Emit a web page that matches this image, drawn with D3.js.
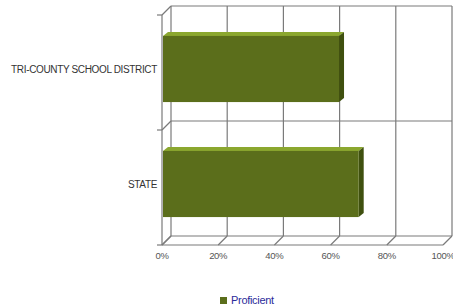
<!DOCTYPE html>
<html>
<head>
<meta charset="utf-8">
<script src="https://cdnjs.cloudflare.com/ajax/libs/d3/7.8.5/d3.min.js"></script>
<style>
  body { margin: 0; background: #fff; }
  svg { display: block; font-family: "Liberation Sans", Arial, sans-serif; }
</style>
</head>
<body>
<div id="chart"></div>
<script>
// data
var categories = ["TRI-COUNTY SCHOOL DISTRICT", "STATE"];
var proficient = [63, 70];
var tickValues = [0, 20, 40, 60, 80, 100];
var seriesName = "Proficient";

var W = 453, H = 308;
var fr = {l: 162, r: 443, t: 15, b: 245}; // front plane of the 3d box
var dep = {x: 9, y: -9};                 // box depth offset
var barDep = {x: 5, y: -4};              // bar depth offset
var col = {front: "#5b6e1b", top: "#8ba72f", side: "#3f500f", grid: "#7a7a7a"};

var svg = d3.select("#chart").append("svg").attr("width", W).attr("height", H);

var x = d3.scaleLinear().domain([0, 100]).range([fr.l, fr.r]);
var y = d3.scaleBand().domain(categories).range([fr.t, fr.b]);

var g = svg.append("g").attr("fill", "none").attr("stroke", col.grid).attr("stroke-width", 1.2);

// back wall
tickValues.forEach(function (v) {
    g.append("line").attr("x1", x(v) + dep.x).attr("x2", x(v) + dep.x)
        .attr("y1", fr.t + dep.y).attr("y2", fr.b + dep.y);
    // floor lines
    g.append("line").attr("x1", x(v)).attr("y1", fr.b)
        .attr("x2", x(v) + dep.x).attr("y2", fr.b + dep.y);
});
var bounds = [fr.t].concat(categories.map(function (c) { return y(c) + y.bandwidth(); }));
bounds.forEach(function (yy) {
    g.append("line").attr("x1", fr.l + dep.x).attr("x2", fr.r + dep.x)
        .attr("y1", yy + dep.y).attr("y2", yy + dep.y);
    g.append("line").attr("x1", fr.l).attr("y1", yy)
        .attr("x2", fr.l + dep.x).attr("y2", yy + dep.y);
    g.append("line").attr("x1", fr.l - 5).attr("x2", fr.l).attr("y1", yy).attr("y2", yy);
});
// front left and front floor edge
g.append("line").attr("x1", fr.l).attr("x2", fr.l).attr("y1", fr.t).attr("y2", fr.b);
g.append("line").attr("x1", fr.l).attr("x2", fr.r).attr("y1", fr.b).attr("y2", fr.b);

// bars
var bh = y.bandwidth() * 0.575;
var bars = svg.selectAll(".bar").data(categories).enter().append("g").attr("class", "bar");
function by(c) { return y(c) + (y.bandwidth() - bh) / 2 - 3.5; }
bars.append("polygon").attr("fill", col.top)
    .attr("points", function (c, i) {
        var x0 = x(0) + 1, x1 = x(proficient[i]), t = by(c);
        return [[x0, t], [x0 + barDep.x, t + barDep.y], [x1 + barDep.x, t + barDep.y], [x1, t]].join(" ");
    });
bars.append("polygon").attr("fill", col.side)
    .attr("points", function (c, i) {
        var x1 = x(proficient[i]), t = by(c);
        return [[x1, t], [x1 + barDep.x, t + barDep.y], [x1 + barDep.x, t + bh + barDep.y], [x1, t + bh]].join(" ");
    });
bars.append("rect").attr("fill", col.front)
    .attr("x", x(0) + 1).attr("y", by)
    .attr("width", function (c, i) { return x(proficient[i]) - x(0) - 1; })
    .attr("height", bh);

// category labels
svg.selectAll(".cat").data(categories).enter().append("text")
    .attr("x", fr.l - 5).attr("y", function (c) { return by(c) + bh / 2 + 3.5; })
    .attr("text-anchor", "end").attr("font-size", 10).attr("fill", "#333")
    .attr("letter-spacing", -0.35)
    .text(function (c) { return c; });

// x tick labels
svg.selectAll(".tick").data(tickValues).enter().append("text")
    .attr("x", function (v) { return x(v); }).attr("y", 259)
    .attr("text-anchor", "middle").attr("font-size", 9.5).attr("fill", "#555")
    .attr("letter-spacing", -0.3)
    .text(function (v) { return v + "%"; });

// legend
svg.append("rect").attr("x", 220).attr("y", 297).attr("width", 7).attr("height", 7).attr("fill", col.front);
svg.append("text").attr("x", 231).attr("y", 304).attr("font-size", 11).attr("fill", "#2b2b9a")
    .attr("letter-spacing", -0.3)
    .text(seriesName);
</script>
</body>
</html>
